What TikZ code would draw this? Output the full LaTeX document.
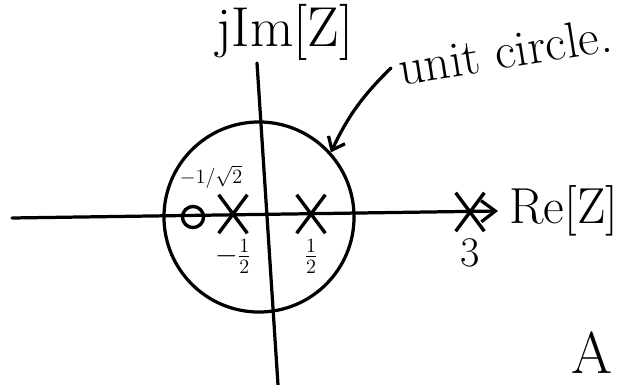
\documentclass[tikz,border=0pt]{standalone}
\usetikzlibrary{arrows.meta,positioning,shapes.misc}
\begin{document}
\begin{tikzpicture}[x=0.025cm,y=-0.025cm,
  ink/.style={line width=2.3pt,line cap=round},
  pole/.style={cross out,draw,line width=2.4pt,minimum width=18pt,minimum height=25pt,inner sep=0pt},
  zero/.style={circle,draw,line width=2.4pt,minimum size=15pt,inner sep=0pt},
  big/.style={font=\fontsize{36}{40}\selectfont,inner sep=0pt},
  val/.style={font=\LARGE,inner sep=1pt}]
\useasboundingbox (0,0) rectangle (642,385);
% axes and unit circle
\coordinate (reL) at (12,218); \coordinate (reR) at (498,211);
\coordinate (imT) at (257,63); \coordinate (imB) at (278,385);
\node[circle,draw,ink,minimum size=4.75cm,inner sep=0pt] (uc) at (259,217) {};
\draw[ink,-{Straight Barb[length=10pt,width=15pt]}] (reL) -- (reR);
\draw[ink] (imT) -- (imB);
\node[big,font=\fontsize{40}{44}\selectfont] (im) at (285,32) {jIm[Z]};
\node[big,right=8pt of reR] (re) {Re[Z]};
% poles and zero
\node[zero] (z0) at (193,217) {};
\node[pole] (p1) at (233,214) {}; \node[val,font=\Large,above left=3pt and -18pt of p1] (p1a) {$-1/\sqrt{2}$};
\node[val,font=\huge,below=3pt of p1] (p1b) {$-\frac{1}{2}$};
\node[pole] (p2) at (311,214) {}; \node[val,font=\huge,below=3pt of p2] (p2b) {$\frac{1}{2}$};
\node[pole] (p3) at (470,212) {}; \node[big,below=5pt of p3,font=\fontsize{30}{34}\selectfont] (p3b) {3};
% label of the circle
\node[big,rotate=9,anchor=west] (ul) at (398,68) {unit circle.};
\draw[ink,-{Straight Barb[length=8pt,width=13pt]}] ([xshift=-5pt]ul.west) to[bend right=10] (uc.42);
\node[big,font=\fontsize{42}{46}\selectfont] (A) at (592,353) {A};
\end{tikzpicture}
\end{document}
